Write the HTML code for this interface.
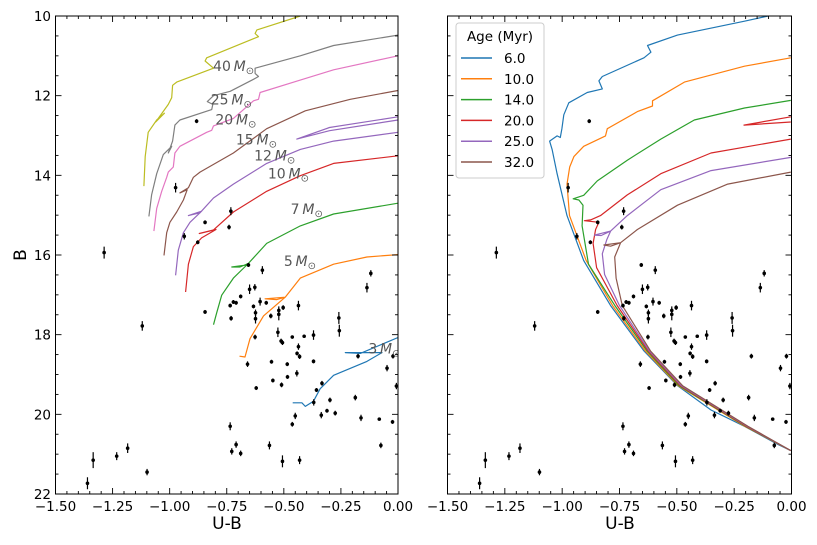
<!DOCTYPE html>
<html><head><meta charset="utf-8"><style>
body{margin:0;background:#fff}
svg{display:block;font-family:"DejaVu Sans","Liberation Sans",sans-serif}
</style></head><body>
<svg id="chart" width="817" height="545" viewBox="0 0 817 545" xmlns="http://www.w3.org/2000/svg">
<defs>
<clipPath id="clipL"><rect x="55.5" y="16" width="342.5" height="478"/></clipPath>
<clipPath id="clipR"><rect x="447.5" y="16" width="344" height="478"/></clipPath>
</defs>
<g id="gL" clip-path="url(#clipL)"></g>
<g id="gR" clip-path="url(#clipR)"></g>
<g id="axes"></g>
<text x="20" y="255" font-size="17" text-anchor="middle" transform="rotate(-90 20 255)" dy="6">B</text>
<text x="227" y="529" font-size="17" text-anchor="middle">U-B</text>
<text x="620" y="529" font-size="17" text-anchor="middle">U-B</text>
<g id="legend">
<rect x="456" y="23" width="88" height="155" rx="3" fill="#fff" fill-opacity="0.85" stroke="#ccc" stroke-width="1"/>
<text x="500" y="41" font-size="13.5" text-anchor="middle">Age (Myr)</text>
</g>
</svg>
<script>
const NS="http://www.w3.org/2000/svg";
// observed stars: U-B, B, error
const starUB=[-0.882,-0.974,-0.936,-0.877,-0.845,-0.740,-0.732,-1.287,-1.120,-0.845,-0.655,-0.594,-0.650,-0.627,-0.735,-0.721,-0.709,-0.689,-0.731,-0.633,-0.624,-0.624,-0.604,-0.577,-0.557,-0.522,-0.522,-0.503,-0.436,-0.626,-0.526,-0.512,-0.506,-0.463,-0.411,-0.370,-0.436,-0.442,-0.431,-0.370,-0.554,-0.659,-0.485,-0.484,-0.548,-0.510,-0.443,-0.621,-0.357,-0.333,-0.369,-0.298,-0.311,-0.336,-0.275,-0.450,-0.463,-0.259,-0.257,-0.175,-0.187,-0.162,-0.136,-0.119,-0.048,-0.022,-0.007,-0.082,-0.024,-0.075,-0.735,-0.709,-0.728,-0.689,-0.563,-0.506,-0.431,-1.184,-1.232,-1.335,-1.360,-1.099];
const starB=[12.64,14.31,15.53,15.68,15.18,15.30,14.90,15.94,17.78,17.43,16.25,16.38,16.86,16.81,17.27,17.18,17.20,17.04,17.59,17.29,17.45,17.60,17.17,17.20,17.53,17.39,17.49,17.32,17.27,18.06,17.94,18.16,18.20,18.06,18.04,18.01,18.30,18.47,18.55,18.67,18.68,18.74,18.74,19.06,19.15,19.26,18.97,19.34,19.39,19.22,19.70,19.64,19.91,20.02,19.97,20.04,20.25,17.58,17.90,18.54,19.58,20.09,16.82,16.46,18.84,18.54,19.29,20.12,20.19,20.78,20.30,20.76,20.93,20.98,20.78,21.18,21.15,20.85,21.05,21.15,21.73,21.45];
const starErr=[0.05,0.12,0.08,0.05,0.05,0.06,0.1,0.15,0.12,0.05,0.05,0.1,0.12,0.08,0.05,0.05,0.05,0.05,0.06,0.05,0.08,0.12,0.1,0.05,0.06,0.1,0.15,0.06,0.12,0.06,0.12,0.06,0.06,0.04,0.04,0.12,0.08,0.05,0.06,0.05,0.05,0.07,0.05,0.05,0.05,0.06,0.08,0.05,0.05,0.06,0.08,0.06,0.05,0.08,0.06,0.08,0.06,0.15,0.15,0.06,0.07,0.08,0.12,0.08,0.08,0.06,0.08,0.04,0.05,0.07,0.1,0.08,0.08,0.07,0.1,0.15,0.1,0.12,0.1,0.2,0.15,0.08];

// left panel: evolutionary tracks (mass labels)
const trackColors=["#bcbd22","#7f7f7f","#e377c2","#8c564b","#9467bd","#9467bd","#d62728","#2ca02c","#ff7f0e","#1f77b4"];
const track40=[[-1.113,14.27],[-1.107,13.53],[-1.094,12.92],[-1.057,12.61],[-1.023,12.44],[-1.061,12.66],[-1.006,12.22],[-0.991,12.05],[-0.987,11.74],[-0.969,11.66],[-0.808,11.31],[-0.845,11.13],[-0.838,11.05],[-0.633,10.57],[-0.611,10.52],[-0.626,10.44],[-0.618,10.35],[-0.428,10.0],[-0.35,9.8]];
const track25=[[-1.091,15.03],[-1.079,14.49],[-1.057,13.96],[-1.028,13.48],[-0.991,13.27],[-1.006,13.44],[-0.987,13.14],[-0.977,12.74],[-0.955,12.61],[-0.816,12.35],[-0.811,12.22],[-0.835,12.15],[-0.808,12.00],[-0.735,11.89],[-0.633,11.59],[-0.611,11.52],[-0.626,11.44],[-0.626,11.31],[-0.428,11.00],[-0.282,10.74],[0.0,10.48]];
const track20=[[-1.069,15.40],[-1.057,14.83],[-1.035,14.40],[-1.013,14.05],[-1.006,13.92],[-0.984,13.79],[-0.977,13.44],[-0.955,13.27],[-0.838,12.92],[-0.816,12.87],[-0.808,12.76],[-0.721,12.57],[-0.633,12.13],[-0.611,12.09],[-0.604,11.92],[-0.428,11.61],[-0.282,11.35],[0.0,11.00]];
const track15=[[-1.025,16.01],[-1.013,15.44],[-0.999,15.18],[-0.969,14.92],[-0.940,14.62],[-0.923,14.36],[-0.955,14.44],[-0.918,14.31],[-0.896,14.05],[-0.867,13.92],[-0.721,13.44],[-0.575,12.83],[-0.406,12.38],[-0.209,12.09],[0.0,11.87]];
const track12=[[-0.974,16.51],[-0.962,15.88],[-0.940,15.44],[-0.911,15.18],[-0.860,14.90],[-0.918,15.01],[-0.867,14.94],[-0.808,14.57],[-0.721,14.22],[-0.575,13.70],[-0.428,13.35],[-0.282,13.14],[0.0,12.92]];
const track12loop=[[0.0,12.53],[-0.300,12.80],[-0.443,13.09],[-0.300,12.88],[0.0,12.61]];
const track10=[[-0.930,16.93],[-0.918,16.23],[-0.896,15.79],[-0.860,15.57],[-0.797,15.36],[-0.870,15.46],[-0.808,15.37],[-0.721,14.92],[-0.575,14.40],[-0.428,14.01],[-0.282,13.70],[0.0,13.51]];
const track7=[[-0.808,17.75],[-0.794,17.45],[-0.772,17.01],[-0.721,16.58],[-0.662,16.25],[-0.728,16.30],[-0.692,16.30],[-0.655,16.21],[-0.575,15.71],[-0.428,15.27],[-0.282,14.97],[0.0,14.70]];
const track5=[[-0.694,18.54],[-0.670,18.56],[-0.648,18.10],[-0.589,17.53],[-0.494,17.06],[-0.582,17.10],[-0.531,17.12],[-0.494,17.06],[-0.428,16.58],[-0.282,16.23],[-0.136,16.05],[0.0,15.99]];
const track3=[[-0.461,19.71],[-0.421,19.71],[-0.406,19.80],[-0.370,19.67],[-0.341,19.36],[-0.282,19.02],[-0.136,18.67],[-0.070,18.45],[-0.231,18.45],[-0.165,18.47],[0.0,18.07]];
const tracks=[track40,track25,track20,track15,track12,track12loop,track10,track7,track5,track3];
const massLabels=["40","25","20","15","12","10","7","5","3"];
const massLabelUB=[-0.81,-0.82,-0.80,-0.71,-0.63,-0.57,-0.47,-0.50,-0.13];
const massLabelB=[11.25,12.1,12.6,13.1,13.5,13.95,14.85,16.15,18.35];

// right panel: isochrones
const ageLabels=["6.0","10.0","14.0","20.0","25.0","32.0"];
const isoColors=["#1f77b4","#ff7f0e","#2ca02c","#d62728","#9467bd","#8c564b"];
const iso6=[[-0.003,20.91],[-0.058,20.76],[-0.205,20.30],[-0.351,19.89],[-0.497,19.28],[-0.643,18.41],[-0.789,17.27],[-0.906,16.14],[-0.979,15.01],[-1.022,13.96],[-1.044,13.35],[-1.055,13.14],[-1.022,13.01],[-1.008,13.05],[-1.001,12.83],[-0.993,12.48],[-0.971,12.18],[-0.891,11.92],[-0.825,11.83],[-0.840,11.63],[-0.825,11.52],[-0.643,11.05],[-0.613,10.91],[-0.628,10.74],[-0.497,10.48],[-0.205,10.13],[-0.102,10.0],[0.0,9.9]];
const iso10=[[-0.003,20.91],[-0.203,20.30],[-0.494,19.28],[-0.637,18.41],[-0.780,17.27],[-0.895,16.14],[-0.968,15.01],[-0.979,14.22],[-0.967,13.79],[-0.949,13.53],[-0.906,13.27],[-0.811,13.01],[-0.803,12.83],[-0.672,12.40],[-0.606,12.26],[-0.606,12.13],[-0.467,11.66],[-0.205,11.26],[-0.003,11.05]];
const iso14=[[-0.003,20.91],[-0.200,20.30],[-0.490,19.28],[-0.630,18.41],[-0.770,17.27],[-0.885,16.23],[-0.913,15.27],[-0.909,14.75],[-0.927,14.62],[-0.952,14.59],[-0.906,14.50],[-0.847,14.14],[-0.716,13.62],[-0.570,13.09],[-0.424,12.61],[-0.205,12.31],[-0.003,12.12]];
const iso20=[[-0.003,20.91],[-0.197,20.30],[-0.485,19.28],[-0.625,18.41],[-0.760,17.27],[-0.850,16.32],[-0.865,15.71],[-0.854,15.36],[-0.840,15.18],[-0.903,15.14],[-0.876,15.12],[-0.833,15.01],[-0.716,14.49],[-0.570,13.96],[-0.351,13.44],[-0.003,13.09]];
const iso20loop=[[-0.003,12.53],[-0.207,12.74],[-0.003,12.66]];
const iso25=[[-0.003,20.91],[-0.193,20.30],[-0.480,19.28],[-0.620,18.41],[-0.750,17.27],[-0.815,16.49],[-0.825,15.97],[-0.806,15.62],[-0.789,15.40],[-0.859,15.50],[-0.830,15.51],[-0.789,15.40],[-0.716,15.01],[-0.570,14.36],[-0.351,13.88],[-0.003,13.55]];
const iso32=[[-0.003,20.91],[-0.190,20.30],[-0.475,19.28],[-0.615,18.41],[-0.738,17.27],[-0.765,16.58],[-0.771,16.05],[-0.752,15.79],[-0.745,15.69],[-0.818,15.75],[-0.789,15.78],[-0.745,15.69],[-0.672,15.36],[-0.497,14.75],[-0.278,14.22],[-0.003,13.92]];
const isos=[iso6,iso10,iso14,iso20,iso20loop,iso25,iso32];
const isoColorIdx=[0,1,2,3,3,4,5];

const xTicks=[-1.5,-1.25,-1.0,-0.75,-0.5,-0.25,0.0];
const yTicks=[10,12,14,16,18,20,22];

const panels=[{x0:55.5,w:342.5,g:document.getElementById('gL'),n:'left'},{x0:447.5,w:344,g:document.getElementById('gR'),n:'right'}];
const Y0=16,H=478;
function sx(p,v){return p.x0+(v+1.5)/1.5*p.w;}
function sy(v){return Y0+(v-10)/12*H;}
function mk(tag,attrs,parent){const e=document.createElementNS(NS,tag);for(const k in attrs)e.setAttribute(k,attrs[k]);parent.appendChild(e);return e;}
function line(p,pts,col,name){
  const d=pts.map((q,i)=>(i?'L':'M')+sx(p,q[0]).toFixed(1)+' '+sy(q[1]).toFixed(1)).join(' ');
  const e=mk('path',{d:d,fill:'none',stroke:col,'stroke-width':1.2,'stroke-linejoin':'round'},p.g);
  
  
}
function stars(p){
  for(let i=0;i<starUB.length;i++){
    const x=sx(p,starUB[i]),y=sy(starB[i]),e=starErr[i]*H/12;
    const g=mk('g',{},p.g);
    
    
    mk('line',{x1:x,x2:x,y1:y-e,y2:y+e,stroke:'#000','stroke-width':1.2},g);
    mk('circle',{cx:x,cy:y,r:1.8,fill:'#000'},g);
  }
}
// left
tracks.forEach((t,i)=>line(panels[0],t,trackColors[i],'mass-track'));
stars(panels[0]);
massLabels.forEach((m,i)=>{
  const t=mk('text',{x:sx(panels[0],massLabelUB[i]),y:sy(massLabelB[i])+5,'font-size':14,fill:'#555'},panels[0].g);
  
  
  t.appendChild(document.createTextNode(m+'\u2009'));
  const a=mk('tspan',{'font-style':'italic'},t);a.textContent='M';
  const b=mk('tspan',{'font-size':10,dy:3},t);b.textContent='\u2299';
});
// right
isos.forEach((t,i)=>line(panels[1],t,isoColors[isoColorIdx[i]],'isochrone'));
stars(panels[1]);
// legend
const lg=document.getElementById('legend');
ageLabels.forEach((a,i)=>{
  const y=58+i*20.8;
  const l=mk('line',{x1:461,x2:492,y1:y,y2:y,stroke:isoColors[i],'stroke-width':1.5},lg);
  
  
  const t=mk('text',{x:504,y:y+5,'font-size':13.5},lg);
  
  
  t.textContent=a;
});
// axes
const ax=document.getElementById('axes');
panels.forEach(p=>{
  const r=mk('rect',{x:p.x0,y:Y0,width:p.w,height:H,fill:'none',stroke:'#000','stroke-width':1},ax);
  
  
  for(let k=0;k<=30;k++){const v=-1.5+k*0.05;const x=sx(p,v);const major=(k%5===0);const L=major?6:3;
    mk('line',{x1:x,x2:x,y1:Y0+H,y2:Y0+H-L,stroke:'#000','stroke-width':0.9},ax);
    mk('line',{x1:x,x2:x,y1:Y0,y2:Y0+L,stroke:'#000','stroke-width':0.9},ax);}
  for(let k=0;k<=24;k++){const v=10+k*0.5;const y=sy(v);const major=(k%4===0);const L=major?6:3;
    mk('line',{x1:p.x0,x2:p.x0+L,y1:y,y2:y,stroke:'#000','stroke-width':0.9},ax);
    mk('line',{x1:p.x0+p.w,x2:p.x0+p.w-L,y1:y,y2:y,stroke:'#000','stroke-width':0.9},ax);}
  xTicks.forEach(v=>{const t=mk('text',{x:sx(p,v),y:511,'font-size':13.5,'text-anchor':'middle'},ax);
    
    
    t.textContent=(v<0?'\u2212':'')+Math.abs(v).toFixed(2);});
});
yTicks.forEach(v=>{const t=mk('text',{x:51,y:sy(v)+5,'font-size':13.5,'text-anchor':'end'},ax);
  
  
  t.textContent=v;});
</script>
</body></html>
